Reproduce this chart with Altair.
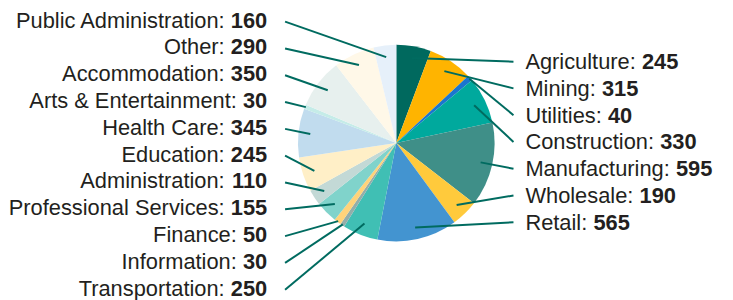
import altair as alt
import pandas as pd
import numpy as np

names = ["Agriculture", "Mining", "Utilities", "Construction", "Manufacturing",
         "Wholesale", "Retail", "Transportation", "Information", "Finance",
         "Professional Services", "Administration", "Education", "Health Care",
         "Arts & Entertainment", "Accommodation", "Other", "Public Administration"]
values = [245, 315, 40, 330, 595, 190, 565, 250, 30, 50, 155, 110, 245, 345, 30, 350, 290, 160]
colors = ["#00695e", "#ffb400", "#1a75cf", "#00a99d", "#3f8f88", "#ffca3c",
          "#4394d0", "#40bfb4", "#93aeaa", "#ffd37a", "#80d3cb", "#c3d9d6",
          "#ffefc7", "#c1dcee", "#c5ece8", "#e7f0ee", "#fff8e8", "#e6f0fa"]

# layout (pixels)
W, H = 717, 284
CX, CY = 386, 135      # pie centre inside plot area
R = 99
FS = 22
FONT = "Liberation Sans"
TXT = "#231f20"
LINE = "#006b60"

# Arial / Liberation Sans advance widths (per 1000 em)
WID = {' ': 278, '&': 667, ':': 278,
       'A': 667, 'B': 667, 'C': 722, 'D': 722, 'E': 667, 'F': 611, 'G': 778, 'H': 722,
       'I': 278, 'J': 500, 'K': 667, 'L': 556, 'M': 833, 'N': 722, 'O': 778, 'P': 667,
       'Q': 778, 'R': 722, 'S': 667, 'T': 611, 'U': 722, 'V': 667, 'W': 944, 'X': 667,
       'Y': 667, 'Z': 611,
       'a': 556, 'b': 556, 'c': 500, 'd': 556, 'e': 556, 'f': 278, 'g': 556, 'h': 556,
       'i': 222, 'j': 222, 'k': 500, 'l': 222, 'm': 833, 'n': 556, 'o': 556, 'p': 556,
       'q': 556, 'r': 333, 's': 500, 't': 278, 'u': 556, 'v': 500, 'w': 722, 'x': 500,
       'y': 500, 'z': 500}


def tw(s):
    return sum(WID.get(c, 556) for c in s) * FS / 1000.0


n = len(names)
total = float(sum(values))
cum = np.concatenate([[0], np.cumsum(values)])
mid = (cum[:-1] + cum[1:]) / 2.0 / total * 2 * np.pi

pie_df = pd.DataFrame({"name": names, "value": values, "idx": range(n),
                       "cx": 0.0, "cy": 0.0})

rows = []
right_idx = list(range(0, 7))
left_idx = list(range(17, 6, -1))
for i, k in enumerate(right_idx):
    base = 68.5 + 26.95 * i          # page baseline
    v = 143 - base
    rr = R * (0.99 if values[k] < 60 else 0.88)
    rows.append(dict(name=names[k] + ":", val=str(values[k]), side="R",
                     xn=130.0, xv=130.0 + tw(names[k] + ": "), y=v,
                     x1=rr * np.sin(mid[k]), y1=rr * np.cos(mid[k]),
                     x2=118.0, y2=v + 7.5))
for i, k in enumerate(left_idx):
    base = 26.7 + 27.0 * i
    v = 143 - base
    rr = R * (0.99 if values[k] < 60 else 0.88)
    rows.append(dict(name=names[k] + ":", val=str(values[k]), side="L",
                     xn=-130.0 - tw(" " + str(values[k])), xv=-130.0, y=v,
                     x1=rr * np.sin(mid[k]), y1=rr * np.cos(mid[k]),
                     x2=-112.0, y2=v + 6.0))
lab = pd.DataFrame(rows)

xs = alt.Scale(domain=[-CX, W - CX], nice=False, zero=False)
ys = alt.Scale(domain=[CY - H, CY], nice=False, zero=False)

pie = alt.Chart(pie_df).mark_arc(radius=R).encode(
    x=alt.X("cx:Q", scale=xs, axis=None),
    y=alt.Y("cy:Q", scale=ys, axis=None),
    theta=alt.Theta("value:Q", stack=True),
    order=alt.Order("idx:Q"),
    color=alt.Color("name:N", scale=alt.Scale(domain=names, range=colors), legend=None),
)

rules = alt.Chart(lab).mark_rule(color=LINE, strokeWidth=2).encode(
    x=alt.X("x1:Q", scale=xs, axis=None),
    y=alt.Y("y1:Q", scale=ys, axis=None),
    x2="x2:Q", y2="y2:Q",
)


def text_layer(side, field, xfield, align, weight):
    return alt.Chart(lab[lab.side == side]).mark_text(
        align=align, baseline="alphabetic", font=FONT, fontSize=FS,
        fontWeight=weight, color=TXT
    ).encode(
        x=alt.X(xfield + ":Q", scale=xs, axis=None),
        y=alt.Y("y:Q", scale=ys, axis=None),
        text=field + ":N",
    )


chart = alt.layer(
    pie, rules,
    text_layer("R", "name", "xn", "left", "normal"),
    text_layer("R", "val", "xv", "left", "bold"),
    text_layer("L", "name", "xn", "right", "normal"),
    text_layer("L", "val", "xv", "right", "bold"),
).properties(width=W, height=H, padding=0).configure_view(stroke=None)

chart.save("out.html", embed_options={"renderer": "svg", "actions": False})
